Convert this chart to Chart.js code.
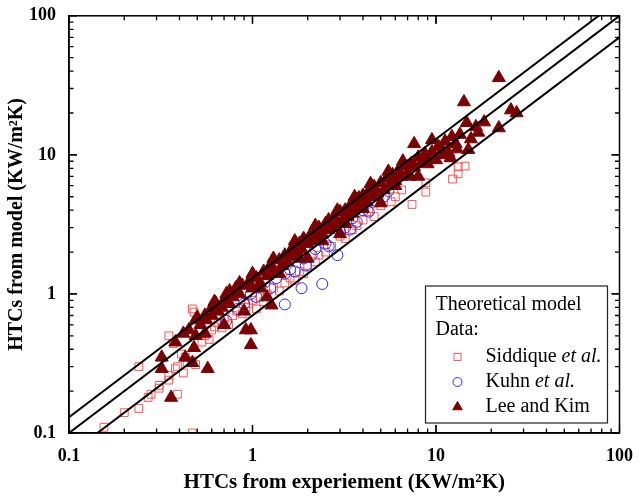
<!DOCTYPE html>
<html>
<head>
<meta charset="utf-8">
<script src="https://cdn.jsdelivr.net/npm/chart.js@4.4.1/dist/chart.umd.min.js"></script>
<style>
  html, body { margin: 0; padding: 0; background: #fff; }
</style>
</head>
<body>
<canvas id="htcChart" width="638" height="500"></canvas>
<script>
// axis ticks
const tickVals = [0.1, 1, 10, 100];
const tickLabels = ['0.1', '1', '10', '100'];

// theoretical model lines (+30%, 0, -30%)
const modelX = [0.1, 100];
const modelUpper = [0.13, 130];
const modelMid = [0.1, 100];
const modelLower = [0.07, 70];

// [experiment, model]
const siddiquePts = [
  [0.155,0.11],[0.2,0.14],[0.24,0.15],[0.27,0.18],[0.28,0.19],[0.31,0.21],[0.31,0.22],[0.35,0.24],
  [0.35,0.26],[0.39,0.19],[0.24,0.30],[0.39,0.30],[0.38,0.29],[0.41,0.37],[0.43,0.35],[0.44,0.32],
  [0.47,0.33],[0.49,0.31],[0.42,0.27],[0.35,0.50],[0.37,0.44],[0.47,0.78],[0.48,0.74],[0.47,0.10],
  [0.53,0.45],[0.55,0.50],[0.58,0.47],[0.60,0.55],[0.62,0.58],[0.65,0.62],[0.68,0.57],[0.70,0.66],
  [0.74,0.60],[0.78,0.70],[0.82,0.75],[0.88,0.72],[0.92,0.80],[0.95,0.85],[1.0,0.90],[1.05,0.78],
  [1.1,0.95],[1.15,0.88],[1.2,1.0],[1.3,1.1],[1.4,1.05],[1.5,1.2],[1.6,1.3],[1.7,1.25],[1.8,1.45],
  [1.9,1.4],[2.0,1.6],[2.2,1.7],[2.3,1.9],[2.5,2.0],[2.7,2.2],[3.0,2.6],[3.2,2.5],[3.5,2.9],
  [3.7,3.1],[4.0,3.4],[4.3,3.9],[4.6,3.6],[5.0,4.3],[5.7,4.6],[6.0,5.0],[6.5,5.6],[7.4,4.4],
  [8.8,5.4],[8.8,6.3],[12.3,6.7],[13.2,7.3],[13.2,8.2],[14.4,8.3]
];
const kuhnPts = [
  [0.72,0.64],[0.83,0.78],[0.90,0.85],[0.98,1.0],[1.05,0.95],[1.16,1.2],[1.25,1.1],[1.35,1.3],
  [1.5,0.84],[1.5,1.4],[1.6,1.5],[1.7,1.45],[1.85,1.1],[1.95,1.6],[1.9,1.8],[2.1,1.9],[2.2,2.1],
  [2.4,1.18],[2.5,2.3],[2.6,2.2],[2.9,1.9],[3.0,2.8],[3.2,3.0],[3.4,2.9],[3.5,3.5],[3.7,3.3],
  [4.0,4.0],[4.3,3.9],[4.5,4.6],[4.8,5.6],[5.2,5.0],[5.5,5.5]
];
const leeKimPts = [
  [0.32,0.35],[0.32,0.29],[0.36,0.18],[0.38,0.45],[0.42,0.52],[0.43,0.35],[0.45,0.55],[0.47,0.32],
  [0.48,0.41],[0.49,0.50],[0.52,0.60],[0.55,0.70],[0.57,0.29],[0.49,0.65],[0.56,0.65],[0.55,0.52],
  [0.60,0.70],[0.60,0.80],[0.63,0.86],[0.65,0.75],[0.68,0.80],[0.70,0.90],[0.70,0.60],[0.72,1.0],
  [0.75,0.85],[0.78,0.95],[0.80,1.05],[0.81,1.1],[0.85,1.0],[0.88,1.15],[0.90,0.75],[0.92,0.55],
  [0.98,0.55],[0.98,0.43],[0.95,1.2],[1.0,1.1],[1.05,1.3],[1.1,1.2],[1.15,1.45],[1.2,1.35],
  [1.2,0.95],[1.27,0.83],[1.25,1.6],[1.3,1.5],[1.35,1.4],[1.4,1.75],[1.45,1.6],[1.5,1.9],
  [1.55,1.7],[1.6,2.0],[1.65,1.85],[1.7,2.2],[1.75,2.0],[1.8,2.3],[1.85,2.1],[1.9,2.5],[2.0,2.3],
  [2.0,1.8],[2.05,2.6],[2.1,2.4],[2.2,2.8],[2.25,2.5],[2.3,3.0],[2.4,2.7],[2.5,3.2],[2.55,2.9],
  [2.6,3.4],[2.7,3.0],[2.8,3.6],[2.9,3.2],[3.0,3.9],[3.0,2.7],[3.1,3.4],[3.2,4.0],[3.3,3.6],
  [3.4,4.3],[3.5,3.8],[3.6,4.6],[3.7,4.1],[3.8,4.9],[3.9,4.3],[4.0,5.1],[4.2,4.6],[4.3,5.5],
  [4.5,5.0],[4.6,5.9],[4.8,5.3],[5.0,6.3],[5.0,4.5],[5.2,5.6],[5.4,6.8],[5.6,6.1],[5.8,7.2],
  [6.0,6.5],[6.2,7.6],[6.5,7.0],[6.8,8.3],[7.0,7.5],[7.3,8.6],[7.6,12.0],[7.6,8.2],[8.0,9.6],
  [8.0,7.0],[8.3,8.8],[8.7,10.2],[9.0,9.5],[9.5,12.8],[9.5,10.5],[10.0,9.2],[10.3,11.5],
  [10.8,10.8],[11.2,12.5],[11.7,10.3],[12.0,9.5],[12.2,13.5],[12.8,12.0],[13.0,11.0],[13.5,14.0],
  [14.2,24.0],[14.7,17.0],[15.0,10.9],[15.5,13.0],[16.5,15.9],[17.0,14.5],[18.3,17.2],[22.0,35.8],
  [22.0,15.6],[25.6,21.0],[27.5,20.0],
  [0.5,0.68],[0.62,0.88],[0.75,1.05],[0.85,1.2],[1.0,1.4],[1.3,1.8],[1.7,2.4],[2.2,3.1],
  [2.9,4.0],[3.6,5.0],[4.4,6.2],[5.5,7.6],[6.6,9.0],[1.1,1.1],[1.4,1.4],[1.8,1.8],[2.4,2.4],
  [3.2,3.2],[4.0,4.1],[6.0,6.0],[7.2,7.0],[9.0,8.6],[11.0,10.0]
];

const serif = '"Liberation Serif", "Times New Roman", serif';
const toXY = pts => pts.map(p => ({ x: p[0], y: p[1] }));
const lineData = ys => modelX.map((x, i) => ({ x: x, y: ys[i] }));

const legendRows = [
  { name: 'Siddique ', ital: 'et al.', ds: 3 },
  { name: 'Kuhn ', ital: 'et al.', ds: 4 },
  { name: 'Lee and Kim', ital: '', ds: 5 }
];

const frameAndLegend = {
  id: 'frameAndLegend',
  afterDraw(chart) {
    const ctx = chart.ctx;
    const a = chart.chartArea;
    const xs = chart.scales.x, ys = chart.scales.y;
    ctx.save();
    ctx.strokeStyle = '#000';
    ctx.lineWidth = 1.5;
    ctx.strokeRect(a.left, a.top, a.right - a.left, a.bottom - a.top);
    // inward tick marks on all four sides
    ctx.lineWidth = 1.3;
    [0.1, 1, 10].forEach(d => {
      for (let m = 1; m <= 10; m++) {
        const v = d * m;
        const len = m === 1 || m === 10 ? 8 : 4.5;
        const px = xs.getPixelForValue(v);
        const py = ys.getPixelForValue(v);
        ctx.beginPath();
        ctx.moveTo(px, a.bottom); ctx.lineTo(px, a.bottom - len);
        ctx.moveTo(px, a.top); ctx.lineTo(px, a.top + len);
        ctx.moveTo(a.left, py); ctx.lineTo(a.left + len, py);
        ctx.moveTo(a.right, py); ctx.lineTo(a.right - len, py);
        ctx.stroke();
      }
    });

    // legend box
    const bx = a.right - 194, by = a.bottom - 147, bw = 182, bh = 137;
    ctx.fillStyle = '#fff';
    ctx.fillRect(bx, by, bw, bh);
    ctx.strokeStyle = '#222';
    ctx.lineWidth = 1.2;
    ctx.strokeRect(bx, by, bw, bh);
    ctx.fillStyle = '#000';
    ctx.textBaseline = 'middle';
    ctx.font = '20px ' + serif;
    ctx.fillText('Theoretical model', bx + 10, by + 19);
    ctx.fillText('Data:', bx + 10, by + 44);
    legendRows.forEach((r, i) => {
      const cy = by + 71 + i * 25;
      const ds = chart.data.datasets[r.ds];
      ctx.save();
      ctx.strokeStyle = ds.borderColor;
      ctx.fillStyle = ds.backgroundColor;
      ctx.lineWidth = 1;
      Chart.helpers.drawPoint(ctx, {
        pointStyle: ds.pointStyle, radius: ds.legendRadius, borderWidth: 1, rotation: 0
      }, bx + 32, cy);
      ctx.restore();
      ctx.fillStyle = '#000';
      ctx.font = '20px ' + serif;
      const tx = bx + 60;
      ctx.fillText(r.name, tx, cy);
      if (r.ital) {
        const w = ctx.measureText(r.name).width;
        ctx.font = 'italic 20px ' + serif;
        ctx.fillText(r.ital, tx + w, cy);
      }
    });
    ctx.restore();
  }
};

const lineStyle = {
  type: 'line', borderColor: '#000', borderWidth: 2, pointRadius: 0,
  fill: false, showLine: true, order: 0
};

new Chart(document.getElementById('htcChart').getContext('2d'), {
  type: 'scatter',
  data: {
    datasets: [
      Object.assign({ label: 'upper', data: lineData(modelUpper) }, lineStyle),
      Object.assign({ label: 'model', data: lineData(modelMid) }, lineStyle),
      Object.assign({ label: 'lower', data: lineData(modelLower) }, lineStyle),
      {
        label: 'Siddique et al.', data: toXY(siddiquePts), order: 3,
        pointStyle: 'rect', pointRadius: 5.5, legendRadius: 5, pointBorderWidth: 1,
        borderColor: 'rgba(255,70,70,0.9)', backgroundColor: 'rgba(255,255,255,0)'
      },
      {
        label: 'Kuhn et al.', data: toXY(kuhnPts), order: 2,
        pointStyle: 'circle', pointRadius: 5.5, legendRadius: 4.5, pointBorderWidth: 1,
        borderColor: '#2a2aff', backgroundColor: 'rgba(255,255,255,0)'
      },
      {
        label: 'Lee and Kim', data: toXY(leeKimPts), order: 1,
        pointStyle: 'triangle', pointRadius: 7.5, legendRadius: 5.5, pointBorderWidth: 1,
        borderColor: '#7a0000', backgroundColor: '#7a0000'
      }
    ]
  },
  options: {
    responsive: false,
    animation: false,
    layout: { padding: { top: 15, right: 12, left: 0, bottom: 0 } },
    plugins: { legend: { display: false }, tooltip: { enabled: false } },
    scales: {
      x: {
        type: 'logarithmic', min: 0.1, max: 100,
        grid: { display: false },
        border: { display: true, color: '#000', width: 1.5 },
        afterBuildTicks: s => { s.ticks = tickVals.map(v => ({ value: v })); },
        afterFit: s => { s.height = 67; },
        ticks: {
          autoSkip: false, maxRotation: 0, padding: 5, color: '#000',
          font: { family: serif, size: 18, weight: 'bold' },
          callback: (v, i) => tickLabels[i]
        },
        title: {
          display: true, text: 'HTCs from experiement (KW/m²K)', color: '#000',
          font: { family: serif, size: 21, weight: 'bold' },
          padding: { top: 2, bottom: 5 }
        }
      },
      y: {
        type: 'logarithmic', min: 0.1, max: 100,
        grid: { display: false },
        border: { display: true, color: '#000', width: 1.5 },
        afterBuildTicks: s => { s.ticks = tickVals.map(v => ({ value: v })); },
        afterFit: s => { s.width = 69; },
        ticks: {
          autoSkip: false, padding: 5, color: '#000',
          font: { family: serif, size: 18, weight: 'bold' },
          callback: (v, i) => tickLabels[i]
        },
        title: {
          display: true, text: 'HTCs from model (KW/m²K)', color: '#000',
          font: { family: serif, size: 20, weight: 'bold' },
          padding: { top: 5, bottom: 0 }
        }
      }
    }
  },
  plugins: [frameAndLegend]
});
</script>
</body>
</html>
